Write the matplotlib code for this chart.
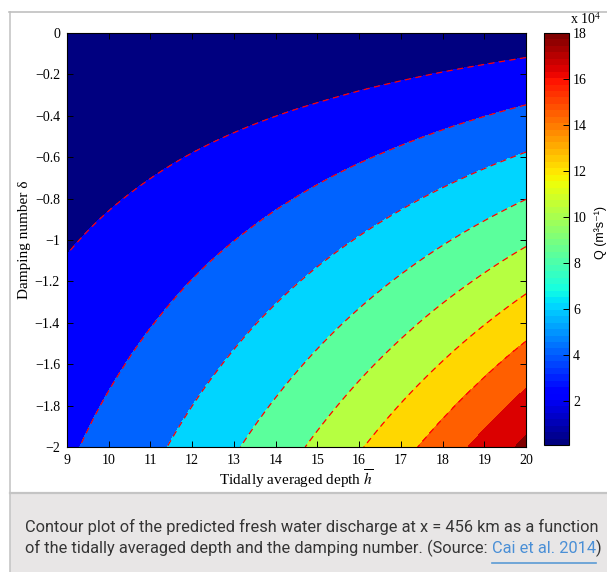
import matplotlib
matplotlib.use("Agg")
import numpy as np
import matplotlib.pyplot as plt
import matplotlib.tri as mtri
from matplotlib import cm, colors
from matplotlib.patches import Rectangle
from matplotlib.lines import Line2D
from matplotlib.ticker import FuncFormatter

W, H = 607, 572

# tidally averaged depth (columns) and damping number (rows)
depth = [9, 10, 11, 12, 13, 14, 15, 16, 17, 18, 19, 20]
damping = [0, -0.25, -0.5, -0.75, -1.0, -1.25, -1.5, -1.75, -2.0]

# predicted fresh water discharge, x 10^4 m3/s
discharge = [
    [0.00, 0.02, 0.06, 0.10, 0.15, 0.22, 0.30, 0.40, 0.51, 0.65, 0.79, 0.96],
    [0.47, 0.60, 0.75, 0.92, 1.11, 1.33, 1.56, 1.83, 2.12, 2.44, 2.78, 3.15],
    [0.94, 1.17, 1.44, 1.74, 2.07, 2.43, 2.83, 3.26, 3.72, 4.23, 4.77, 5.34],
    [1.40, 1.75, 2.13, 2.56, 3.02, 3.53, 4.09, 4.69, 5.33, 6.02, 6.75, 7.53],
    [1.87, 2.32, 2.82, 3.38, 3.98, 4.64, 5.35, 6.11, 6.93, 7.81, 8.74, 9.72],
    [2.34, 2.90, 3.51, 4.20, 4.94, 5.74, 6.61, 7.54, 8.54, 9.60, 10.72, 11.91],
    [2.81, 3.47, 4.21, 5.01, 5.89, 6.85, 7.87, 8.97, 10.14, 11.39, 12.71, 14.10],
    [3.27, 4.05, 4.90, 5.83, 6.85, 7.95, 9.13, 10.40, 11.75, 13.18, 14.69, 16.29],
    [3.74, 4.62, 5.59, 6.65, 7.81, 9.06, 10.40, 11.83, 13.35, 14.97, 16.68, 18.48],
]

fill_levels = [0, 2, 4, 6, 8, 10, 12, 14, 16, 18, 20]
dashed_levels = [2, 4, 6, 8, 10, 12, 14]
xticks = [9, 10, 11, 12, 13, 14, 15, 16, 17, 18, 19, 20]
yticks = [0, -0.2, -0.4, -0.6, -0.8, -1, -1.2, -1.4, -1.6, -1.8, -2]
cbar_ticks = [2, 4, 6, 8, 10, 12, 14, 16, 18]

caption_1 = "Contour plot of the predicted fresh water discharge at x = 456 km as a function"
caption_2 = "of the tidally averaged depth and the damping number. (Source: "
caption_link = "Cai et al. 2014"
caption_end = ")"

plt.rcParams['font.family'] = ['Liberation Serif', 'DejaVu Serif']
plt.rcParams['mathtext.fontset'] = 'stix'
plt.rcParams['lines.dashed_pattern'] = [5, 3.5]


def fx(px):
    return px / W


def fy(py):
    return 1 - py / H


fig = plt.figure(figsize=(W / 100, H / 100), dpi=100)

# page frame and caption box
fig.add_artist(Rectangle((fx(10), 0), 1 - fx(10), fy(493), transform=fig.transFigure,
                         facecolor='#e8e6e6', edgecolor='none'))
fig.add_artist(Line2D([fx(9.5), fx(9.5)], [0, fy(12)], transform=fig.transFigure,
                      color='#c6c6c6', lw=1.2))
fig.add_artist(Line2D([fx(9), 1], [fy(12), fy(12)], transform=fig.transFigure,
                      color='#c0c0c0', lw=1.2))
fig.add_artist(Line2D([fx(10), 1], [fy(493), fy(493)], transform=fig.transFigure,
                      color='#c4c4c4', lw=1.6))

ax = fig.add_axes([fx(67), fy(447), fx(526) - fx(67), fy(33) - fy(447)])

hh, dd = np.meshgrid(depth, damping)
tri = mtri.Triangulation(hh.ravel(), dd.ravel())
tri_f, q_f = mtri.UniformTriRefiner(tri).refine_field(np.array(discharge).ravel(), subdiv=4)

jet = plt.get_cmap('jet', 64)
band_norm = colors.Normalize(0, 17.5)
band_colors = [jet(band_norm(v)) for v in fill_levels[:-1]]
ax.tricontourf(tri_f, q_f, levels=fill_levels, colors=band_colors)
ax.tricontour(tri_f, q_f, levels=dashed_levels, colors='red', linewidths=0.9, linestyles='dashed')

ax.set_xlim(9, 20)
ax.set_ylim(-2, 0)
ax.set_xticks(xticks)
ax.set_yticks(yticks)
ax.yaxis.set_major_formatter(FuncFormatter(lambda v, _: f"{v:g}".replace('-', '\u2212')))
ax.tick_params(direction='in', top=True, right=True, length=4, width=0.7, labelsize=10, pad=5)
for s in ax.spines.values():
    s.set_linewidth(0.8)

fig.text(fx(25), fy(240), 'Damping number δ', rotation=90, ha='center', va='center', fontsize=11)
fig.text(fx(296), fy(479), r'Tidally averaged depth $\overline{h}$', ha='center', va='center', fontsize=11)

# colour bar
cax = fig.add_axes([fx(544), fy(445), fx(569) - fx(544), fy(33) - fy(445)])
cb = fig.colorbar(cm.ScalarMappable(norm=colors.Normalize(0.1, 18), cmap=jet), cax=cax, ticks=cbar_ticks)
cb.outline.set_linewidth(0.8)
cax.tick_params(direction='in', length=4, width=0.7, labelsize=10, pad=3)
fig.text(fx(570), fy(24), r'x 10$^{4}$', fontsize=10, ha='left', va='baseline')
fig.text(fx(601), fy(233), 'Q (m³s⁻¹)', rotation=90, ha='center', va='center', fontsize=9,
         family=['Liberation Sans', 'DejaVu Sans'])

# caption
sans = ['Liberation Sans Narrow', 'Roboto', 'DejaVu Sans']
renderer = fig.canvas.get_renderer()
t1 = fig.text(fx(25), fy(532), caption_1, fontsize=14, color='#353535', family=sans, va='baseline')
w = t1.get_window_extent(renderer).width
fs = 14 * 575 / w
t1.set_fontsize(fs)

t2 = fig.text(fx(25), fy(553), caption_2, fontsize=fs, color='#353535', family=sans, va='baseline')
x_link = 25 + t2.get_window_extent(renderer).width
t3 = fig.text(fx(x_link), fy(553), caption_link, fontsize=fs, color='#4a8fd6', family=sans, va='baseline')
x_end = x_link + t3.get_window_extent(renderer).width
fig.text(fx(x_end), fy(553), caption_end, fontsize=fs, color='#353535', family=sans, va='baseline')
fig.add_artist(Line2D([fx(x_link), fx(x_end)], [fy(563), fy(563)], transform=fig.transFigure,
                      color='#5b9bd5', lw=1.2))

fig.savefig('out.png', dpi=100)
